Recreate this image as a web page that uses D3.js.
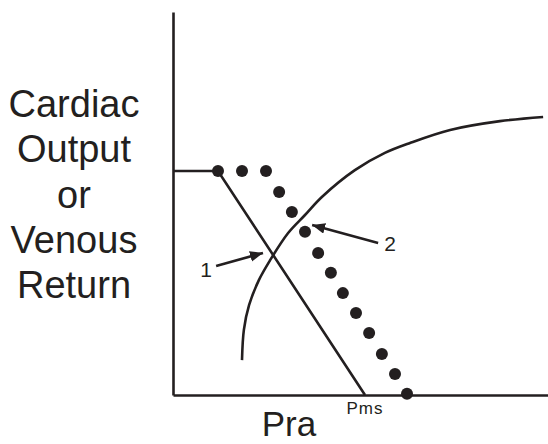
<!DOCTYPE html>
<html>
<head>
<meta charset="utf-8">
<script src="https://cdn.jsdelivr.net/npm/d3@7"></script>
<style>
  html, body { margin: 0; padding: 0; background: #fff; }
  svg { display: block; font-family: "Liberation Sans", Arial, Helvetica, sans-serif; }
</style>
</head>
<body>
<div id="chart"></div>
<script>
// Cardiac output / venous return vs right atrial pressure (Pra)
const yLabelLines = ['Cardiac', 'Output', 'or', 'Venous', 'Return'];
const xLabel = 'Pra';
const pmsLabel = 'Pms';

// cardiac output curve
const coPra  = [18.4, 18.9, 20.3, 22.9, 25.9, 30.7, 35.2, 39.7, 48.5, 56.5, 63.2, 73.9, 87.2, 98.7];
const coFlow = [9.1, 17.0, 23.5, 30.0, 35.2, 42.3, 47.0, 51.7, 58.7, 63.2, 65.8, 69.2, 71.5, 72.6];

// venous return curve 1 (solid): plateau then straight down to Pms
const vrPra  = [0, 12.0, 51.2];
const vrFlow = [58.5, 58.5, 0];

// venous return curve 2 (dotted)
const dotPra  = [12.0, 18.4, 24.8, 28.3, 31.7, 35.2, 38.7, 42.1, 45.3, 48.8, 52.3, 55.7, 59.2, 62.4];
const dotFlow = [58.5, 58.5, 58.5, 53.0, 47.8, 42.6, 37.1, 31.9, 26.6, 21.4, 16.2, 10.7, 5.5, 0.3];

// annotation arrows: label, label position, tail, tip
const arrowLabels = ['1', '2'];
const arrowLabelAt = [[8.8, 32.9], [57.9, 39.7]];
const arrowTail = [[11.5, 33.7], [54.7, 39.7]];
const arrowTip  = [[24.0, 37.1], [37.1, 44.4]];

const width = 548, height = 444;
const ink = '#231f20';

const svg = d3.select('#chart')
    .append('svg')
    .attr('width', width)
    .attr('height', height);

const x = d3.scaleLinear().domain([0, 100]).range([173, 548]);
const y = d3.scaleLinear().domain([0, 100]).range([395, 12]);

svg.append('defs').append('marker')
    .attr('id', 'arrowhead')
    .attr('viewBox', '0 -5 12 10')
    .attr('refX', 12)
    .attr('refY', 0)
    .attr('orient', 'auto')
    .attr('markerUnits', 'userSpaceOnUse')
    .attr('markerWidth', 13)
    .attr('markerHeight', 11)
    .append('path')
    .attr('d', 'M0,-5L12,0L0,5Z')
    .attr('fill', ink);

// axes, no ticks
const xAxis = svg.append('g')
    .attr('transform', `translate(0,${y(0)})`)
    .call(d3.axisBottom(x).ticks(0).tickSizeOuter(0));
const yAxis = svg.append('g')
    .attr('transform', `translate(${x(0)},0)`)
    .call(d3.axisLeft(y).ticks(0).tickSizeOuter(0));
[xAxis, yAxis].forEach(g => g.select('.domain')
    .attr('stroke', ink)
    .attr('stroke-width', 2.6));

const line = d3.line().x(d => x(d[0])).y(d => y(d[1]));

// cardiac output curve
svg.append('path')
    .datum(d3.zip(coPra, coFlow))
    .attr('d', line.curve(d3.curveCatmullRom.alpha(0.5)))
    .attr('fill', 'none')
    .attr('stroke', ink)
    .attr('stroke-width', 2.6);

// venous return 1
svg.append('path')
    .datum(d3.zip(vrPra, vrFlow))
    .attr('d', d3.line().x(d => x(d[0])).y(d => y(d[1])))
    .attr('fill', 'none')
    .attr('stroke', ink)
    .attr('stroke-width', 2.6);

// venous return 2 (dots)
svg.append('g')
    .selectAll('circle')
    .data(d3.zip(dotPra, dotFlow))
    .enter().append('circle')
    .attr('cx', d => x(d[0]))
    .attr('cy', d => y(d[1]))
    .attr('r', 6)
    .attr('fill', ink);

// arrows
svg.append('g')
    .selectAll('line')
    .data(arrowLabels.map((l, i) => ({ tail: arrowTail[i], tip: arrowTip[i] })))
    .enter().append('line')
    .attr('x1', d => x(d.tail[0]))
    .attr('y1', d => y(d.tail[1]))
    .attr('x2', d => x(d.tip[0]))
    .attr('y2', d => y(d.tip[1]))
    .attr('stroke', ink)
    .attr('stroke-width', 2.6)
    .attr('marker-end', 'url(#arrowhead)');

svg.append('g')
    .selectAll('text')
    .data(arrowLabels.map((l, i) => ({ label: l, at: arrowLabelAt[i] })))
    .enter().append('text')
    .attr('x', d => x(d.at[0]))
    .attr('y', d => y(d.at[1]))
    .attr('dy', '0.36em')
    .attr('text-anchor', 'middle')
    .style('font-size', '21px')
    .style('fill', ink)
    .text(d => d.label);

// Pms label under the x intercept of curve 1
svg.append('text')
    .attr('x', x(vrPra[vrPra.length - 1]))
    .attr('y', 414)
    .attr('text-anchor', 'middle')
    .style('font-size', '17px')
    .style('letter-spacing', '1px')
    .style('fill', ink)
    .text(pmsLabel);

// axis titles
svg.append('text')
    .attr('x', 289)
    .attr('y', 436)
    .attr('text-anchor', 'middle')
    .style('font-size', '35px')
    .style('fill', ink)
    .text(xLabel);

svg.append('g')
    .selectAll('text')
    .data(yLabelLines)
    .enter().append('text')
    .attr('x', 74)
    .attr('y', (d, i) => 117 + i * 45.3)
    .attr('text-anchor', 'middle')
    .style('font-size', '38px')
    .style('fill', ink)
    .text(d => d);
</script>
</body>
</html>
